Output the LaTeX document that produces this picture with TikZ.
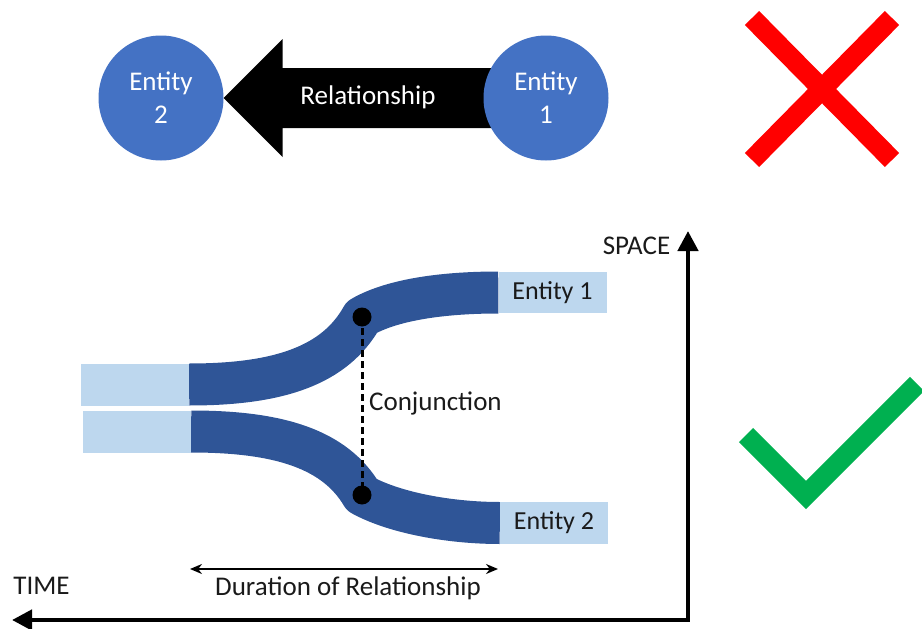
\documentclass[tikz,border=0pt]{standalone}
\usepackage{fontspec}
\setmainfont{Carlito}
\usetikzlibrary{arrows.meta,backgrounds,calc}

\definecolor{entblue}{HTML}{4472C4}
\definecolor{banddark}{HTML}{2F5597}
\definecolor{bandlight}{HTML}{BDD7EE}
\definecolor{crossred}{HTML}{FF0000}
\definecolor{tickgreen}{HTML}{00B050}
\definecolor{labeltext}{HTML}{1A1A1A}

\tikzset{
  entity/.style={circle, fill=entblue, minimum size=125pt, inner sep=0pt,
    text=white, align=center, font=\fontsize{27}{33}\selectfont},
  lifebox/.style={rectangle, fill=bandlight, inner sep=0pt, text=labeltext,
    minimum width=108pt, minimum height=42pt, font=\fontsize{26}{30}\selectfont},
  band/.style={draw=banddark, line width=42pt, line join=round, line cap=butt},
  junction/.style={circle, fill=black, minimum size=19pt, inner sep=0pt},
  label/.style={text=labeltext, inner sep=0pt, font=\fontsize{27}{30}\selectfont},
  axisline/.style={line width=4.5pt, line join=miter,
    {Triangle[length=20pt,width=20pt]}-{Triangle[length=20pt,width=20pt]}},
  spanline/.style={line width=2.4pt,
    {Stealth[length=12pt,width=10pt]}-{Stealth[length=12pt,width=10pt]}},
  markstroke/.style={line width=20pt, line cap=butt, line join=miter}
}

\begin{document}
\begin{tikzpicture}[x=1pt, y=-1pt]
  \useasboundingbox (0,0) rectangle (922,629);

  % --- upper scheme: two entities joined by a block arrow ---
  \node[entity] (e2) at (161,98) {Entity\\2};
  \node[entity] (e1) at (546,98) {Entity\\1};
  \begin{scope}[on background layer]
    \fill[black] (e2.east) -- ++(59,-59) -- ++(0,29)
      -- ($(e1.center)+(0,-30)$) -- ($(e1.center)+(0,30)$)
      -- ($(e2.east)+(59,30)$) -- ++(0,29) -- cycle;
  \end{scope}
  \node[text=white, inner sep=0pt, font=\fontsize{27}{30}\selectfont] (rel) at (368,97) {Relationship};

  % red cross
  \draw[markstroke, crossred] (752,18) -- (892,160);
  \draw[markstroke, crossred] (892,18) -- (752,160);

  % --- lower scheme: entity lifelines in space and time ---
  \node[lifebox] (a1) at (135,384.5) {};
  \node[lifebox] (a2) at (137,431.5) {};
  \node[lifebox, minimum height=41pt] (b1) at (552.5,292.5) {Entity 1};
  \node[lifebox] (b2) at (554,523) {Entity 2};

  \coordinate (j1) at (362,317);
  \coordinate (j2) at (362,495);

  \draw[band] (a1.east) .. controls (280,384.5) and (335,365) .. (j1)
    .. controls (395,298) and (450,292.5) .. (b1.west);
  \draw[band] (a2.east) .. controls (280,431.5) and (335,449.5) .. (j2)
    .. controls (395,513) and (450,523) .. (b2.west);

  \draw[line width=3pt, dash pattern=on 7pt off 4pt] (j1) -- (j2);
  \node[junction] (d1) at (j1) {};
  \node[junction] (d2) at (j2) {};
  \node[label, anchor=west] (conj) at (369,403) {Conjunction};

  % duration of the relationship
  \coordinate (ds) at (190,569);
  \coordinate (de) at (498,569);
  \draw[spanline] (ds) -- (de);
  \node[label] (dur) at (348,588) {Duration of Relationship};

  % axes
  \coordinate (spacetip) at (688,231);
  \coordinate (timetip) at (12,620);
  \draw[axisline] (spacetip) |- (timetip);
  \node[label] (space) at (636.5,246) {SPACE};
  \node[label] (time) at (41.5,586) {TIME};

  % green tick
  \draw[markstroke, tickgreen] (746,435) -- (806,495) -- (917,384);
\end{tikzpicture}
\end{document}
